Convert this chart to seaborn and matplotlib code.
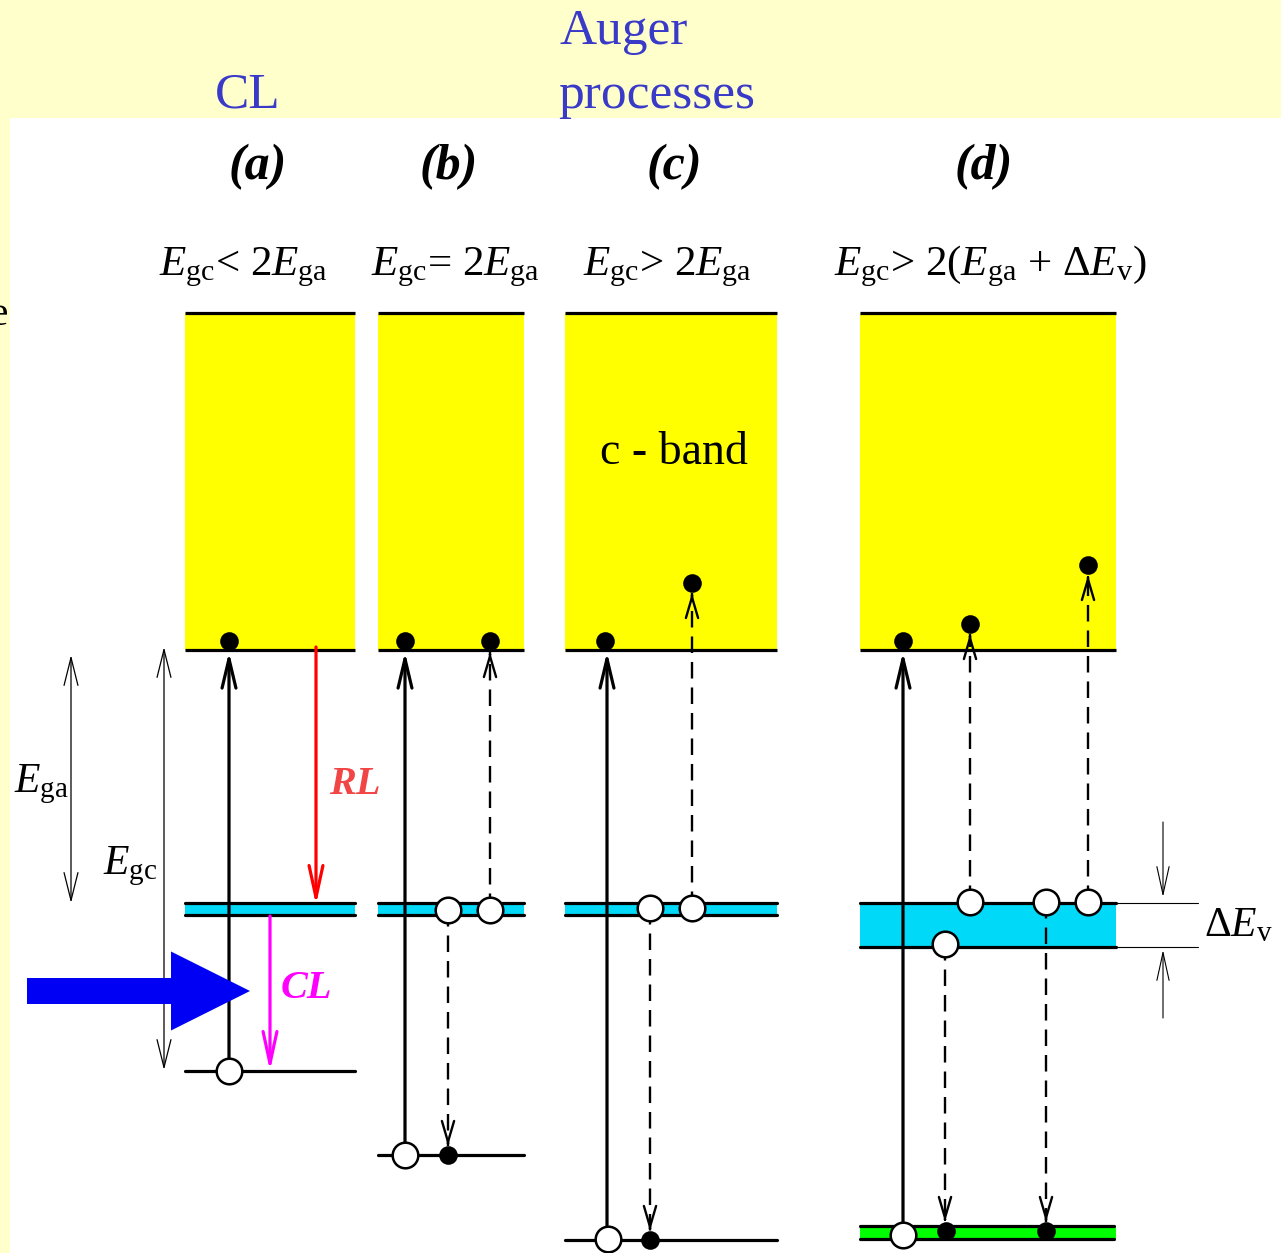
import matplotlib
matplotlib.use("Agg")
import numpy as np
import pandas as pd
import seaborn as sns
import matplotlib.pyplot as plt
from matplotlib.patches import Rectangle, FancyArrow

sns.set_theme(style="white")
plt.rcParams['font.family'] = ['Liberation Serif', 'DejaVu Serif']
plt.rcParams['text.color'] = 'black'
plt.rcParams['mathtext.fontset'] = 'custom'
plt.rcParams['mathtext.rm'] = 'Liberation Serif'
plt.rcParams['mathtext.it'] = 'Liberation Serif:italic'
plt.rcParams['mathtext.bf'] = 'Liberation Serif:bold'

# ---------------- data (diagram energy levels, pixel units) ----------------
panel_labels = ['(a)', '(b)', '(c)', '(d)']
panel_centers = [258, 449, 674, 984]
conditions = [r'$E_{\rm gc}$< 2$E_{\rm ga}$',
              r'$E_{\rm gc}$= 2$E_{\rm ga}$',
              r'$E_{\rm gc}$> 2$E_{\rm ga}$',
              r'$E_{\rm gc}$> 2($E_{\rm ga}$ + $\Delta E_{\rm v}$)']
cond_x = [243, 455, 667, 990]
panel_left = [185, 378, 565, 860]
panel_right = [355, 524, 777, 1116]
cband_top = [313, 313, 313, 313]
cband_edge = [650, 650, 650, 650]
aband_top = [903, 903, 903, 903]
aband_bottom = [915, 915, 915, 947]
core_level = [1071, 1155, 1240, None]
core_band_top = [None, None, None, 1226]
core_band_bottom = [None, None, None, 1239]

electron_x = [229, 405, 490, 605, 692, 903, 970, 1088, 448, 650, 946, 1046]
electron_y = [641, 641, 641, 641, 583, 641, 624, 565, 1155, 1240, 1231, 1231]
hole_x = [229, 448, 490, 405, 650, 692, 608, 970, 1046, 1088, 945, 903]
hole_y = [1071, 910, 910, 1155, 908, 908, 1239, 902, 902, 902, 944, 1235]

# transitions: x, start, end
solid_x = [229, 405, 607, 903]
solid_from = [1071, 1155, 1239, 1235]
solid_to = [652, 652, 652, 652]
dashed_x = [490, 692, 970, 1088, 448, 650, 945, 1046]
dashed_from = [910, 908, 902, 902, 910, 908, 944, 902]
dashed_to = [652, 593, 634, 575, 1146, 1231, 1222, 1222]
rl_x, rl_from, rl_to = 316, 647, 905
cl_x, cl_from, cl_to = 270, 916, 1071

# ---------------- figure ----------------
fig = plt.figure(figsize=(12.81, 12.53), dpi=100)
fig.patch.set_facecolor('#FFFFCC')
ax = fig.add_axes([0, 0, 1, 1])
ax.set_facecolor('#FFFFCC')

ax.add_patch(Rectangle((10, 118), 1281 - 10, 1253 - 118, facecolor='white',
                       edgecolor='none', zorder=0))

YEL = '#FFFF00'
CYAN = '#00DAF8'
GREEN = '#00FF00'
LW = 2.3

for i in range(4):
    l, r = panel_left[i], panel_right[i]
    ax.add_patch(Rectangle((l, cband_top[i]), r - l, cband_edge[i] - cband_top[i],
                           facecolor=YEL, edgecolor='none', zorder=1))
    ax.plot([l, r], [cband_top[i]] * 2, color='black', lw=LW, zorder=2,
            solid_capstyle='butt')
    ax.plot([l, r], [cband_edge[i]] * 2, color='black', lw=LW, zorder=2,
            solid_capstyle='butt')
    ax.add_patch(Rectangle((l, aband_top[i]), r - l, aband_bottom[i] - aband_top[i],
                           facecolor=CYAN, edgecolor='none', zorder=1))
    ax.plot([l, r], [aband_top[i]] * 2, color='black', lw=LW, zorder=2)
    ax.plot([l, r], [aband_bottom[i]] * 2, color='black', lw=LW, zorder=2)
    if core_level[i] is not None:
        ax.plot([l, r], [core_level[i]] * 2, color='black', lw=LW, zorder=2)
    else:
        ax.add_patch(Rectangle((l, core_band_top[i]), r - l,
                               core_band_bottom[i] - core_band_top[i],
                               facecolor=GREEN, edgecolor='none', zorder=1))
        ax.plot([l, r - 2], [core_band_top[i]] * 2, color='black', lw=LW, zorder=2)
        ax.plot([l, r - 2], [core_band_bottom[i]] * 2, color='black', lw=LW, zorder=2)


def head(x, y_from, y_to, color='black', lw=2.2, hl=1.05, hw=0.25, ls='-'):
    ax.annotate('', xy=(x, y_to), xytext=(x, y_from),
                arrowprops=dict(arrowstyle=f'->,head_length={hl},head_width={hw}',
                                lw=lw, color=color, shrinkA=0, shrinkB=0,
                                mutation_scale=20, linestyle=ls),
                zorder=3)


for x, a, b in zip(solid_x, solid_from, solid_to):
    head(x, a, b, lw=2.3)

for x, a, b in zip(dashed_x, dashed_from, dashed_to):
    ax.plot([x, x], [a, b], color='black', lw=1.7, ls=(0, (7, 3.8)), zorder=3)
    d = 1 if b > a else -1
    head(x, b - d * 3, b, lw=1.7, hl=0.75, hw=0.22)

head(rl_x, rl_from, rl_to, color='#FF0000', lw=2.3, hl=1.15)
head(cl_x, cl_from, cl_to, color='#FF00FF', lw=2.3, hl=1.15)

# double-headed energy arrows
for x, a, b in [(71, 655, 903), (164, 647, 1070)]:
    ax.annotate('', xy=(x, b), xytext=(x, a),
                arrowprops=dict(arrowstyle='<->,head_length=1.0,head_width=0.25',
                                lw=0.9, color='black', shrinkA=0, shrinkB=0,
                                mutation_scale=20), zorder=3)

# Delta E_v marks
ax.plot([1116, 1198], [903, 903], color='black', lw=0.8, zorder=2)
ax.plot([1116, 1198], [947, 947], color='black', lw=0.8, zorder=2)
for a, b in [(822, 897), (1018, 950)]:
    ax.annotate('', xy=(1163, b), xytext=(1163, a),
                arrowprops=dict(arrowstyle='->,head_length=1.0,head_width=0.22',
                                lw=0.8, color='black', shrinkA=0, shrinkB=0,
                                mutation_scale=20), zorder=3)

# big blue arrow
ax.add_patch(FancyArrow(27, 991, 223, 0, width=26, head_width=79, head_length=79,
                        length_includes_head=True, color='#0000F4', zorder=3,
                        linewidth=0))

# electrons and holes
sns.scatterplot(x=electron_x, y=electron_y, ax=ax, s=180, color='black',
                edgecolor='black', linewidth=0, zorder=5, legend=False)
sns.scatterplot(x=hole_x, y=hole_y, ax=ax, s=340, color='white',
                edgecolor='black', linewidth=1.8, zorder=5, legend=False)

# ---------------- texts ----------------
BLUE = '#3A3AC8'
ax.text(248, 108, 'CL', color=BLUE, fontsize=37, ha='center', va='baseline', zorder=6)
ax.text(559, 44, 'Auger', color=BLUE, fontsize=37, ha='left', va='baseline', zorder=6)
ax.text(558, 108, 'processes', color=BLUE, fontsize=37, ha='left', va='baseline', zorder=6)
ax.text(8, 325, 'e', color='black', fontsize=30, ha='right', va='baseline', zorder=6)

for lab, cx in zip(panel_labels, panel_centers):
    ax.text(cx, 167, lab, fontsize=36, fontweight='bold', fontstyle='italic',
            ha='center', va='center', zorder=6)

for c, cx in zip(conditions, cond_x):
    ax.text(cx, 275, c, fontsize=31, ha='center', va='baseline', zorder=6)

ax.text(674, 464, 'c - band', fontsize=33, ha='center', va='baseline', zorder=6)
ax.text(329, 794, 'RL', color='#F24545', fontsize=29, fontweight='bold',
        fontstyle='italic', ha='left', va='baseline', zorder=6)
ax.text(281, 998, 'CL', color='#FF00FF', fontsize=29, fontweight='bold',
        fontstyle='italic', ha='left', va='baseline', zorder=6)
ax.text(14, 792, r'$E_{\rm ga}$', fontsize=30, ha='left', va='baseline', zorder=6)
ax.text(103, 874, r'$E_{\rm gc}$', fontsize=30, ha='left', va='baseline', zorder=6)
ax.text(1204, 936, r'$\Delta E_{\rm v}$', fontsize=30, ha='left', va='baseline', zorder=6)

ax.set_xlim(0, 1281)
ax.set_ylim(1253, 0)
ax.axis('off')
fig.savefig('out.png', dpi=100, facecolor=fig.get_facecolor())
